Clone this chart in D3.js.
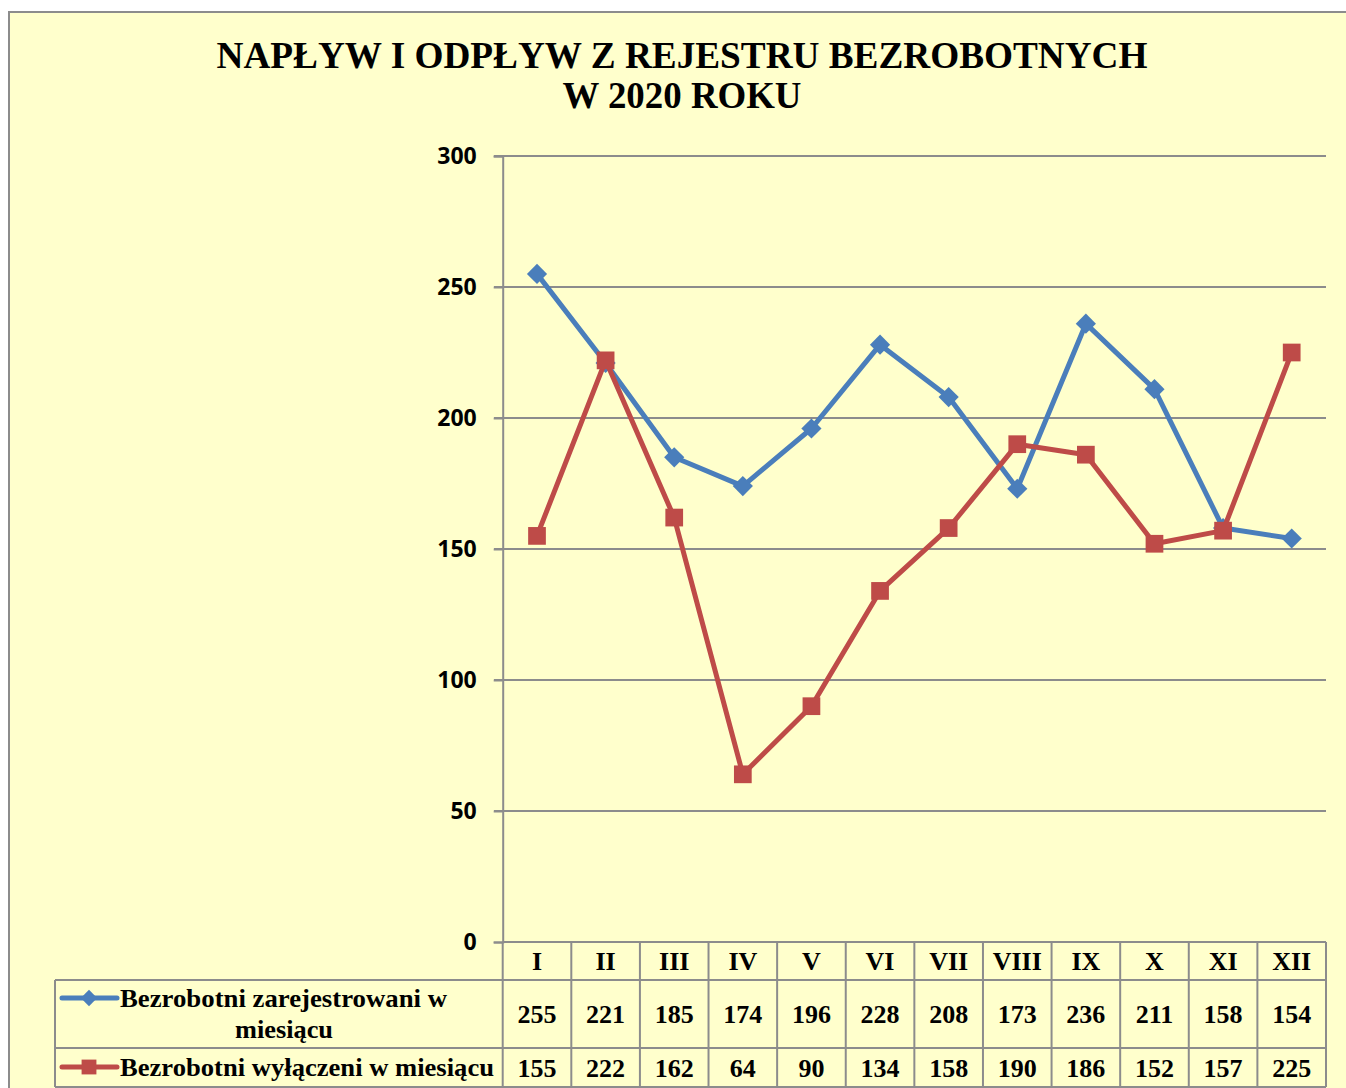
<!DOCTYPE html>
<html>
<head>
<meta charset="utf-8">
<script src="https://cdnjs.cloudflare.com/ajax/libs/d3/7.8.5/d3.min.js"></script>
<style>
  html, body { margin: 0; padding: 0; background: #fff; }
  svg { display: block; }
</style>
</head>
<body>
<script>
const months = ['I', 'II', 'III', 'IV', 'V', 'VI', 'VII', 'VIII', 'IX', 'X', 'XI', 'XII']
const registered = [255, 221, 185, 174, 196, 228, 208, 173, 236, 211, 158, 154]
const removed = [155, 222, 162, 64, 90, 134, 158, 190, 186, 152, 157, 225]
const yTicks = [0, 50, 100, 150, 200, 250, 300]
const seriesNames = ['Bezrobotni zarejestrowani w', 'Bezrobotni wyłączeni w miesiącu']
const titleLines = ['NAPŁYW I ODPŁYW Z REJESTRU BEZROBOTNYCH', 'W 2020 ROKU']

const width = 1346
const height = 1088
const blue = '#4a7ebb'
const red = '#be4b48'
const grid = '#8c8c8c'
const serif = '"Liberation Serif", "Times New Roman", serif'

const svg = d3.select('body').append('svg').attr('width', width).attr('height', height)

// frame
svg.append('rect').attr('x', 9).attr('y', 12).attr('width', width).attr('height', height)
  .attr('fill', '#ffffcc').attr('stroke', grid).attr('stroke-width', 2)

// title
svg.selectAll('.title').data(titleLines).enter().append('text')
  .attr('class', 'title')
  .attr('x', 682)
  .attr('y', (d, i) => 68 + i * 40)
  .attr('text-anchor', 'middle')
  .attr('font-family', serif).attr('font-weight', 'bold').attr('font-size', 38)
  .attr('textLength', (d, i) => i == 0 ? 931 : 239)
  .attr('lengthAdjust', 'spacingAndGlyphs')
  .text(d => d)

const x = d3.scaleBand().domain(months).range([502.7, 1326])
const y = d3.scaleLinear().domain([0, 300]).range([942, 156])

// gridlines
svg.append('g').selectAll('line').data(yTicks.filter(d => d > 0)).enter().append('line')
  .attr('x1', 494).attr('x2', 1326)
  .attr('y1', d => y(d)).attr('y2', d => y(d))
  .attr('stroke', grid).attr('stroke-width', 2)

// y axis
const yAxis = svg.append('g').attr('transform', 'translate(502.7,0)')
  .call(d3.axisLeft(y).tickValues(yTicks).tickSize(9).tickPadding(17))
yAxis.select('.domain').attr('stroke', grid).attr('stroke-width', 2)
yAxis.selectAll('.tick line').attr('stroke', grid).attr('stroke-width', 2)
yAxis.selectAll('.tick text')
  .attr('font-family', '"Open Sans", "DejaVu Sans", sans-serif').attr('font-weight', 700)
  .attr('font-size', 23).attr('fill', '#000').attr('dy', '0.34em')

// table
const tableLeft = 55
const rows = [942, 980, 1048, 1087]
const tg = svg.append('g')
tg.append('line').attr('x1', 502.7).attr('x2', 1326).attr('y1', rows[0]).attr('y2', rows[0])
  .attr('stroke', grid).attr('stroke-width', 2)
tg.selectAll('.hrow').data(rows.slice(1)).enter().append('line')
  .attr('x1', tableLeft).attr('x2', 1326).attr('y1', d => d).attr('y2', d => d)
  .attr('stroke', grid).attr('stroke-width', 2)
tg.selectAll('.vcol').data(months.concat(['end'])).enter().append('line')
  .attr('x1', (d, i) => i < 12 ? x(d) : x.range()[1])
  .attr('x2', (d, i) => i < 12 ? x(d) : x.range()[1])
  .attr('y1', rows[0]).attr('y2', rows[3])
  .attr('stroke', grid).attr('stroke-width', 2)
tg.append('line').attr('x1', tableLeft).attr('x2', tableLeft).attr('y1', rows[1]).attr('y2', rows[3])
  .attr('stroke', grid).attr('stroke-width', 2)

const cellText = (sel) => sel.attr('text-anchor', 'middle')
  .attr('font-family', serif).attr('font-weight', 'bold').attr('font-size', 26)
  .attr('fill', '#000')

tg.selectAll('.mon').data(months).enter().append('text')
  .attr('x', d => x(d) + x.bandwidth() / 2).attr('y', 970)
  .call(cellText).text(d => d)
tg.selectAll('.v1').data(registered).enter().append('text')
  .attr('x', (d, i) => x(months[i]) + x.bandwidth() / 2).attr('y', 1023)
  .call(cellText).text(d => d)
tg.selectAll('.v2').data(removed).enter().append('text')
  .attr('x', (d, i) => x(months[i]) + x.bandwidth() / 2).attr('y', 1077)
  .call(cellText).text(d => d)

// legend entries in table
const diamond = d3.symbol().type(d3.symbolDiamond2)
const square = d3.symbol().type(d3.symbolSquare2)

const leg1 = tg.append('g')
leg1.append('line').attr('x1', 62).attr('x2', 117).attr('y1', 998).attr('y2', 998)
  .attr('stroke', blue).attr('stroke-width', 5).attr('stroke-linecap', 'round')
leg1.append('path').attr('d', diamond.size(170)()).attr('transform', 'translate(89,998)').attr('fill', blue)
leg1.append('text').attr('x', 120).attr('y', 1007)
  .attr('font-family', serif).attr('font-weight', 'bold').attr('font-size', 26)
  .attr('textLength', 327).attr('lengthAdjust', 'spacingAndGlyphs')
  .text(seriesNames[0])
leg1.append('text').attr('x', 284).attr('y', 1038).attr('text-anchor', 'middle')
  .attr('font-family', serif).attr('font-weight', 'bold').attr('font-size', 26)
  .attr('textLength', 98).attr('lengthAdjust', 'spacingAndGlyphs')
  .text('miesiącu')

const leg2 = tg.append('g')
leg2.append('line').attr('x1', 62).attr('x2', 117).attr('y1', 1067).attr('y2', 1067)
  .attr('stroke', red).attr('stroke-width', 5).attr('stroke-linecap', 'round')
leg2.append('path').attr('d', square.size(280)()).attr('transform', 'translate(89,1067)').attr('fill', red)
leg2.append('text').attr('x', 120).attr('y', 1076)
  .attr('font-family', serif).attr('font-weight', 'bold').attr('font-size', 26)
  .attr('textLength', 374).attr('lengthAdjust', 'spacingAndGlyphs')
  .text(seriesNames[1])

// series
const line = d3.line().x((d, i) => x(months[i]) + x.bandwidth() / 2).y(d => y(d))

const series = [
  {values: registered, color: blue, sym: diamond.size(260)},
  {values: removed, color: red, sym: square.size(400)}
]
series.forEach(s => {
  const g = svg.append('g')
  g.append('path').datum(s.values).attr('d', line)
    .attr('fill', 'none').attr('stroke', s.color).attr('stroke-width', 5)
    .attr('stroke-linejoin', 'round')
  g.selectAll('path.m').data(s.values).enter().append('path').attr('class', 'm')
    .attr('d', s.sym())
    .attr('transform', (d, i) => 'translate(' + (x(months[i]) + x.bandwidth() / 2) + ',' + y(d) + ')')
    .attr('fill', s.color)
})
</script>
</body>
</html>
